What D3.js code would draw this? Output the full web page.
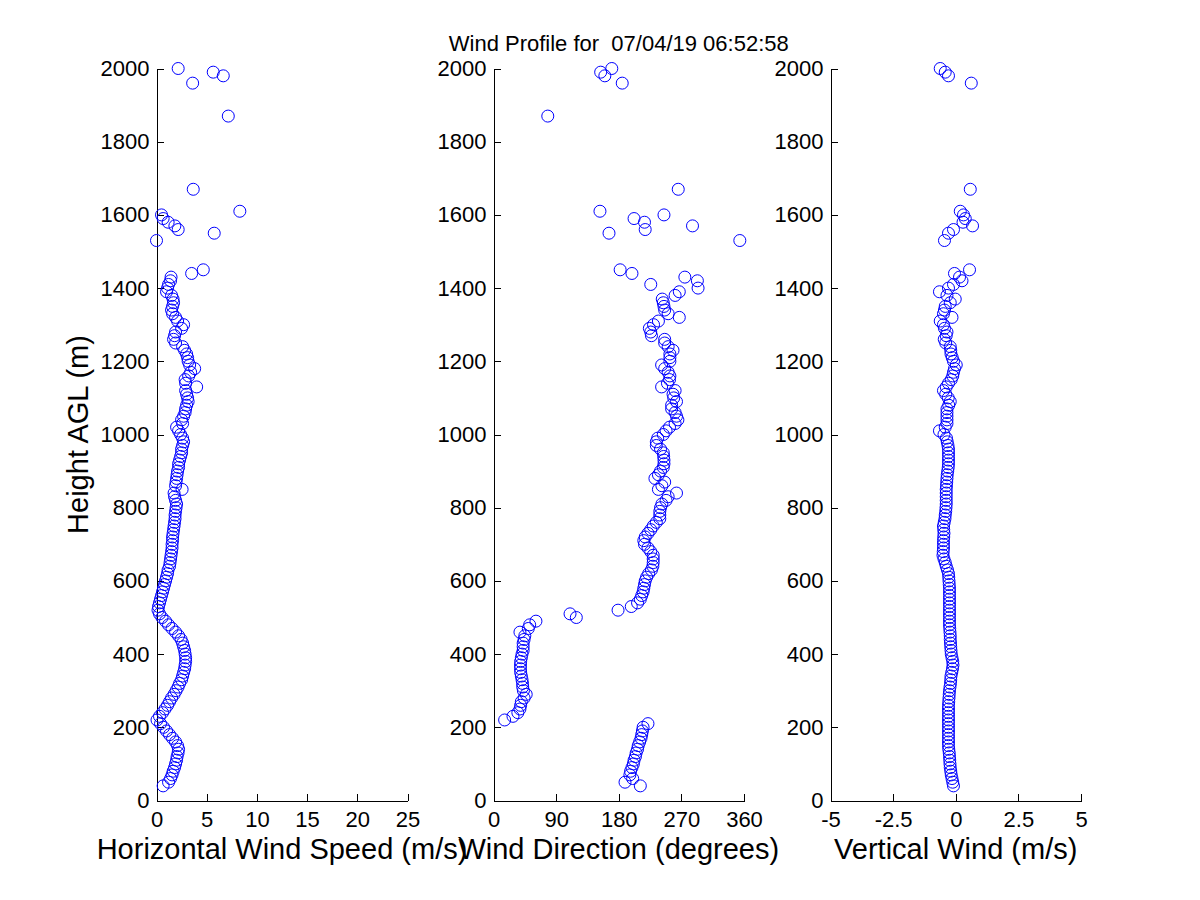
<!DOCTYPE html>
<html>
<head>
<meta charset="utf-8">
<script src="https://cdn.jsdelivr.net/npm/d3@7"></script>
<style>
  html, body { margin: 0; padding: 0; background: #fff; }
  svg { display: block; font-family: "Liberation Sans", Arial, sans-serif; }
</style>
</head>
<body>
<svg id="chart" width="1200" height="900"></svg>
<script>
// ---- Data ----
const titleText = "Wind Profile for  07/04/19 06:52:58";
const heights = [
  40,50,60,70,80,90,100,110,120,130,
  140,150,160,170,180,190,200,210,220,230,
  240,250,260,270,280,290,300,310,320,330,
  340,350,360,370,380,390,400,410,420,430,
  440,450,460,470,480,490,500,510,520,530,
  540,550,560,570,580,590,600,610,620,630,
  640,650,660,670,680,690,700,710,720,730,
  740,750,760,770,780,790,800,810,820,830,
  840,850,860,870,880,890,900,910,920,930,
  940,950,960,970,980,990,1000,1010,1020,1030,
  1040,1050,1060,1070,1080,1090,1100,1110,1120,1130,
  1140,1150,1160,1170,1180,1190,1200,1210,1220,1230,
  1240,1250,1260,1270,1280,1290,1300,1310,1320,1330,
  1340,1350,1360,1370,1380,1390,1400,1410,1420,1430,
  1440,1450,
  1530,1550,1560,1570,1580,1590,1600,1610,1670,1870,1960,1980,1990,2000
];
const speed = [
  0.66,1.2,1.4,1.55,1.66,1.8,1.9,2.0,2.05,2.15,
  2.2,2.1,1.9,1.6,1.3,1.0,0.7,0.4,0.05,0.3,
  0.6,0.85,1.1,1.3,1.5,1.75,1.95,2.15,2.3,2.5,
  2.6,2.7,2.8,2.85,2.9,2.9,2.85,2.8,2.7,2.6,
  2.45,2.2,1.9,1.55,1.2,0.9,0.55,0.3,0.15,0.2,
  0.3,0.4,0.5,0.6,0.7,0.8,0.9,1.0,1.1,1.15,
  1.3,1.35,1.4,1.45,1.5,1.55,1.55,1.6,1.6,1.65,
  1.7,1.75,1.8,1.85,1.85,1.9,1.95,2.0,1.9,1.8,
  1.75,2.55,1.9,1.95,2.0,2.05,2.1,2.2,2.2,2.3,
  2.4,2.5,2.5,2.6,2.7,2.6,2.4,2.2,2.0,2.6,
  2.5,2.7,2.85,2.9,3.0,3.15,3.1,3.0,2.9,4.0,
  2.9,2.85,3.2,3.4,3.8,3.3,3.15,3.1,3.0,2.8,
  2.6,1.9,1.7,1.8,1.9,2.5,2.7,2.1,1.9,1.6,
  1.5,1.6,1.7,1.65,1.5,1.0,1.1,1.2,1.4,1.45,
  3.5,4.66,
  0.0,5.75,2.16,1.83,1.16,0.66,0.5,8.3,3.66,7.15,3.6,6.65,5.65,2.16
];
const direction = [
  211,189,200,196,197,199,201,202,204,205,
  207,208,210,212,213,214,215,222,16,28,
  35,38,39,40,44,47,43,42,41.7,41,
  40,39,38.8,38.8,39,40,41,42.6,42.6,42.6,
  44,45,38,50,52,61,119,110,179,198,
  207,211,213,215,216,217,218,220,223,227,
  229,229.5,229.5,229.5,226,222,217,216,218,222,
  226,229.5,234,239,239,239,240,242,248,251,
  263,237,242,246,232,237,240,244,245,245,
  244.5,244,240,234,234,236,244,248,253,261,
  265,263,261,256,256,263,259,258,261,241.6,
  250,253,253.5,251,246,241.6,253.5,253.5,253.5,258,
  251,246,246,227,226,224,230,237,267,251,
  246,245,244,242.5,261,267,294,226,293,275,
  199,182,
  354,166,218,286,217,202,245,153,265.5,78,185,160,154,170
];
const vertical = [
  -0.09,-0.12,-0.15,-0.18,-0.2,-0.22,-0.23,-0.24,-0.25,-0.26,
  -0.28,-0.29,-0.29,-0.29,-0.29,-0.29,-0.29,-0.29,-0.29,-0.29,
  -0.29,-0.29,-0.29,-0.28,-0.27,-0.26,-0.25,-0.23,-0.21,-0.2,
  -0.19,-0.16,-0.13,-0.11,-0.12,-0.15,-0.18,-0.19,-0.2,-0.21,
  -0.22,-0.22,-0.23,-0.24,-0.25,-0.25,-0.25,-0.25,-0.25,-0.25,
  -0.25,-0.25,-0.25,-0.25,-0.25,-0.26,-0.27,-0.28,-0.29,-0.33,
  -0.38,-0.42,-0.47,-0.51,-0.5,-0.49,-0.49,-0.49,-0.48,-0.47,
  -0.48,-0.49,-0.46,-0.43,-0.42,-0.4,-0.39,-0.38,-0.38,-0.38,
  -0.38,-0.38,-0.37,-0.36,-0.35,-0.34,-0.32,-0.3,-0.29,-0.29,
  -0.29,-0.29,-0.29,-0.31,-0.34,-0.37,-0.47,-0.65,-0.42,-0.35,
  -0.35,-0.35,-0.35,-0.35,-0.28,-0.22,-0.3,-0.4,-0.49,-0.38,
  -0.29,-0.18,-0.12,-0.09,-0.05,0.02,-0.09,-0.14,-0.19,-0.2,
  -0.22,-0.4,-0.46,-0.38,-0.35,-0.45,-0.49,-0.62,-0.15,-0.49,
  -0.45,-0.42,-0.22,-0.02,-0.35,-0.65,-0.29,-0.09,0.25,0.15,
  -0.05,0.55,
  -0.45,-0.29,-0.09,0.67,0.29,0.38,0.31,0.18,0.58,null,0.62,-0.29,-0.42,-0.62
];
const heightTicks = [0,200,400,600,800,1000,1200,1400,1600,1800,2000];
const heightTickLabels = ["0","200","400","600","800","1000","1200","1400","1600","1800","2000"];
const speedTicks = [0,5,10,15,20,25];
const speedTickLabels = ["0","5","10","15","20","25"];
const directionTicks = [0,90,180,270,360];
const directionTickLabels = ["0","90","180","270","360"];
const verticalTicks = [-5,-2.5,0,2.5,5];
const verticalTickLabels = ["-5","-2.5","0","2.5","5"];
const xLabels = ["Horizontal Wind Speed (m/s)", "Wind Direction (degrees)", "Vertical Wind (m/s)"];
const yLabel = "Height AGL (m)";

// ---- Layout ----
const svg = d3.select("#chart");
const y = d3.scaleLinear().domain([0, 2000]).range([800.5, 68.5]);

const panels = [
  { values: speed, domain: [0, 25], range: [156.5, 407.5], ticks: speedTicks, labels: speedTickLabels, label: xLabels[0] },
  { values: direction, domain: [0, 360], range: [493.5, 744], ticks: directionTicks, labels: directionTickLabels, label: xLabels[1] },
  { values: vertical, domain: [-5, 5], range: [830.5, 1081], ticks: verticalTicks, labels: verticalTickLabels, label: xLabels[2] }
];

const tickFont = 22;
const labelFont = 29;
panels.forEach(p => {
  const x = d3.scaleLinear().domain(p.domain).range(p.range);
  const g = svg.append("g");

  // y axis
  const ya = g.append("g").attr("transform", `translate(${p.range[0]},0)`)
    .call(d3.axisLeft(y).tickValues(heightTicks)
      .tickFormat((d, i) => heightTickLabels[i])
      .tickSizeInner(-7).tickSizeOuter(0).tickPadding(7));
  // x axis
  const xa = g.append("g").attr("transform", `translate(0,${y(0)})`)
    .call(d3.axisBottom(x).tickValues(p.ticks)
      .tickFormat((d, i) => p.labels[i])
      .tickSizeInner(-7).tickSizeOuter(0).tickPadding(11));
  [ya, xa].forEach(a => {
    a.selectAll("path, line").attr("stroke", "#000").attr("stroke-width", 1).attr("shape-rendering", "crispEdges");
    a.selectAll("text").attr("fill", "#000").style("font-size", tickFont + "px")
      .style("font-family", "'Liberation Sans', Arial, sans-serif");
  });

  // points
  const pts = heights.map((h, i) => ({ h, v: p.values[i] })).filter(d => d.v !== null && d.v !== undefined);
  g.append("g").selectAll("circle").data(pts).join("circle")
    .attr("cx", d => x(d.v))
    .attr("cy", d => y(d.h))
    .attr("r", 6)
    .attr("fill", "none")
    .attr("stroke", "#0000ff")
    .attr("stroke-width", 1);

  // x label
  svg.append("text")
    .attr("x", (p.range[0] + p.range[1]) / 2)
    .attr("y", 859)
    .attr("text-anchor", "middle")
    .style("font-size", labelFont + "px")
    .attr("fill", "#000")
    .text(p.label);
});

// y label
svg.append("text")
  .attr("transform", `translate(88, ${(y(0) + y(2000)) / 2}) rotate(-90)`)
  .attr("text-anchor", "middle")
  .style("font-size", labelFont + "px")
  .attr("fill", "#000")
  .text(yLabel);

// title
svg.append("text")
  .attr("x", (493.5 + 744) / 2)
  .attr("y", 51)
  .attr("text-anchor", "middle")
  .style("font-size", "22px")
  .attr("fill", "#000")
  .style("white-space", "pre")
  .text(titleText);
</script>
</body>
</html>
